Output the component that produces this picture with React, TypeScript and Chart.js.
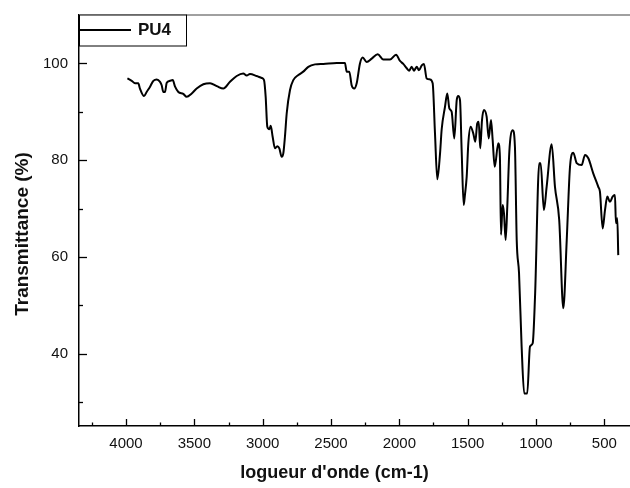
import React, { useEffect, useRef } from "react";
import { Chart, registerables } from "chart.js";

Chart.register(...registerables);

const SERIES_LABEL = "PU4";
const X_TITLE = "logueur d'onde (cm-1)";
const Y_TITLE = "Transmittance (%)";

const X_TICKS = [4000, 3500, 3000, 2500, 2000, 1500, 1000, 500];
const Y_TICKS = [40, 60, 80, 100];

const wavenumbers = [
  3990, 3958, 3934, 3910, 3898, 3868, 3849, 3824, 3800, 3775, 3751, 3739, 3727, 3715, 3702, 3678,
  3658, 3641, 3617, 3581, 3556, 3519, 3483, 3434, 3385, 3336, 3288, 3239, 3190, 3142, 3117, 3093,
  3044, 3007, 2990, 2978, 2966, 2951, 2941, 2927, 2910, 2893, 2878, 2861, 2849, 2837, 2824, 2800,
  2776, 2739, 2703, 2666, 2617, 2556, 2458, 2398, 2385, 2366, 2349, 2330, 2312, 2288, 2268, 2239,
  2202, 2158, 2117, 2068, 2024, 1995, 1971, 1946, 1927, 1910, 1893, 1873, 1856, 1836, 1820, 1800,
  1776, 1756, 1739, 1722, 1702, 1690, 1666, 1649, 1634, 1617, 1598, 1580, 1569, 1556, 1544, 1529,
  1520, 1507, 1495, 1478, 1459, 1444, 1430, 1419, 1408, 1395, 1381, 1361, 1346, 1329, 1317, 1302,
  1276, 1264, 1256, 1244, 1234, 1222, 1210, 1195, 1170, 1154, 1141, 1124, 1105, 1086, 1064, 1044,
  1024, 1007, 976, 966, 942, 922, 885, 861, 830, 800, 775, 751, 727, 702, 666, 641,
  617, 581, 544, 532, 512, 495, 478, 459, 439, 422, 415, 405, 398,
];

const transmittance = [
  96.9, 96.4, 95.9, 95.9, 94.8, 93.25, 94.1, 95.2, 96.4, 96.7, 96.2, 95.5, 94.1, 94.1, 96.0, 96.4,
  96.55, 95.2, 94.1, 93.7, 93.1, 93.8, 94.8, 95.7, 95.9, 95.3, 94.8, 96.2, 97.4, 97.9, 97.5, 97.8,
  97.4, 97.0, 96.55, 93.1, 86.9, 86.4, 87.1, 84.85, 82.45, 82.9, 82.45, 80.7, 81.4, 84.85, 89.7, 94.5,
  96.55, 97.6, 98.3, 99.3, 99.8, 99.9, 100.1, 100.1, 98.3, 98.3, 95.5, 94.8, 95.9, 100.0, 101.2, 100.3,
  101.0, 101.9, 100.8, 100.8, 101.8, 100.5, 99.9, 99.0, 98.5, 99.3, 98.5, 99.3, 98.6, 99.6, 99.9, 96.9,
  96.7, 95.9, 85.55, 76.05, 81.4, 86.4, 91.0, 93.8, 90.7, 90.0, 84.5, 92.4, 93.25, 92.4, 82.1, 70.75,
  72.8, 76.6, 83.5, 86.9, 85.55, 83.8, 87.6, 87.95, 82.45, 88.3, 90.4, 89.0, 84.5, 88.3, 84.2, 78.65,
  83.5, 80.7, 64.6, 70.75, 69.0, 63.5, 70.4, 81.75, 86.2, 82.8, 63.5, 56.65, 41.5, 31.8, 31.8, 41.5,
  42.2, 51.8, 79.4, 79.4, 69.7, 74.5, 83.3, 74.5, 67.65, 49.4, 63.5, 78.65, 81.55, 79.4, 79.0, 81.1,
  80.4, 77.3, 74.5, 73.5, 65.9, 69.7, 72.5, 71.4, 72.5, 72.8, 67.0, 68.0, 60.4,
];

const X_MIN = 312;
const X_MAX = 4344;
const Y_MIN = 25.1;
const Y_MAX = 110;

const FONT = "'Liberation Sans', Arial, Helvetica, sans-serif";

const decorPlugin = {
  id: "decor",
  afterDraw(chart: any) {
    const { ctx, chartArea, scales } = chart;
    const xs = scales.x;
    const ys = scales.y;
    ctx.save();
    ctx.strokeStyle = "#808080";
    ctx.lineWidth = 1.5;
    ctx.beginPath();
    ctx.moveTo(chartArea.left, chartArea.top);
    ctx.lineTo(chartArea.right, chartArea.top);
    ctx.stroke();

    ctx.strokeStyle = "#000";
    ctx.lineWidth = 1.3;
    for (let v = Math.ceil(X_MIN / 250) * 250; v <= X_MAX; v += 250) {
      const px = Math.round(xs.getPixelForValue(v)) + 0.5;
      const len = v % 500 === 0 ? 7 : 3.5;
      ctx.beginPath();
      ctx.moveTo(px, chartArea.bottom);
      ctx.lineTo(px, chartArea.bottom - len);
      ctx.stroke();
    }
    for (let v = Math.ceil(Y_MIN / 10) * 10; v <= Y_MAX - 1; v += 10) {
      const py = Math.round(ys.getPixelForValue(v)) + 0.5;
      const len = v % 20 === 0 ? 8 : 4;
      ctx.beginPath();
      ctx.moveTo(chartArea.left, py);
      ctx.lineTo(chartArea.left + len, py);
      ctx.stroke();
    }

    const lx = chartArea.left;
    const ly = chartArea.top - 0.5;
    const lw = 107;
    const lh = 31;
    ctx.fillStyle = "#fff";
    ctx.fillRect(lx, ly, lw, lh);
    ctx.strokeStyle = "#000";
    ctx.lineWidth = 1;
    ctx.strokeRect(lx + 0.5, ly + 0.5, lw, lh);
    ctx.lineWidth = 2;
    ctx.beginPath();
    ctx.moveTo(lx + 1, ly + 15.5);
    ctx.lineTo(lx + 52, ly + 15.5);
    ctx.stroke();
    ctx.fillStyle = "#111";
    ctx.font = `bold 17px ${FONT}`;
    ctx.textAlign = "left";
    ctx.textBaseline = "middle";
    ctx.fillText(chart.data.datasets[0].label, lx + 59, ly + 16);

    ctx.font = `bold 18px ${FONT}`;
    ctx.textAlign = "center";
    ctx.textBaseline = "middle";
    ctx.fillText(X_TITLE, 334.5, 473);
    ctx.save();
    ctx.translate(23, 234);
    ctx.rotate(-Math.PI / 2);
    ctx.font = `bold 19px ${FONT}`;
    ctx.fillText(Y_TITLE, 0, 0);
    ctx.restore();
    ctx.restore();
  },
};

export default function App() {
  const canvasRef = useRef<HTMLCanvasElement | null>(null);

  useEffect(() => {
    if (!canvasRef.current) return;
    const points = wavenumbers.map((w, i) => ({ x: w, y: transmittance[i] }));
    const chart = new Chart(canvasRef.current, {
      type: "line",
      data: {
        datasets: [
          {
            label: SERIES_LABEL,
            data: points,
            borderColor: "#000",
            borderWidth: 2,
            pointRadius: 0,
            fill: false,
            cubicInterpolationMode: "monotone",
          },
        ],
      },
      options: {
        animation: false,
        responsive: false,
        devicePixelRatio: 1,
        layout: { autoPadding: false, padding: { left: 0, right: 0, top: 15, bottom: 0 } },
        plugins: {
          legend: { display: false },
          tooltip: { enabled: false },
        },
        scales: {
          x: {
            type: "linear",
            reverse: true,
            min: X_MIN,
            max: X_MAX,
            grid: { display: false, drawTicks: false },
            border: { display: true, color: "#000", width: 1.5 },
            afterBuildTicks: (scale: any) => {
              scale.ticks = X_TICKS.map((v) => ({ value: v }));
            },
            ticks: {
              autoSkip: false,
              maxRotation: 0,
              padding: 9,
              color: "#111",
              font: { family: FONT, size: 15 },
              callback: (v: any) => String(v),
            },
            afterFit: (scale: any) => {
              scale.height = 62;
              scale.paddingLeft = 0;
              scale.paddingRight = 0;
            },
          },
          y: {
            type: "linear",
            min: Y_MIN,
            max: Y_MAX,
            grid: { display: false, drawTicks: false },
            border: { display: true, color: "#000", width: 1.5 },
            afterBuildTicks: (scale: any) => {
              scale.ticks = Y_TICKS.map((v) => ({ value: v }));
            },
            ticks: {
              padding: 11,
              color: "#111",
              font: { family: FONT, size: 15 },
              callback: (v: any) => String(v),
            },
            afterFit: (scale: any) => {
              scale.width = 79;
              scale.paddingTop = 0;
              scale.paddingBottom = 0;
            },
          },
        },
      },
      plugins: [decorPlugin],
    });
    return () => chart.destroy();
  }, []);

  return (
    <div style={{ position: "absolute", left: 0, top: 0, width: 630, height: 488 }}>
      <canvas ref={canvasRef} width={630} height={488} style={{ display: "block" }} />
    </div>
  );
}
